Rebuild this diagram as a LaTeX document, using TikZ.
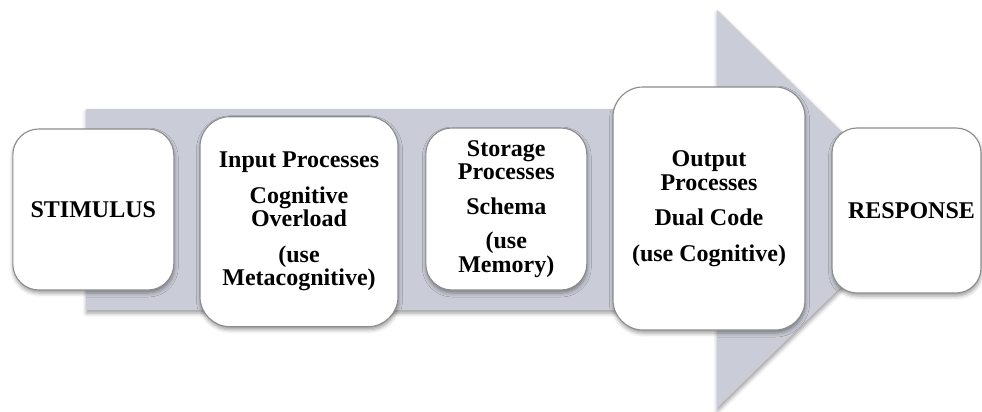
\documentclass[tikz,border=0pt]{standalone}
\usepackage{fontspec}
\setmainfont{Liberation Serif}
\usetikzlibrary{shadows.blur}
\definecolor{arrowfill}{HTML}{CACDD7}
\definecolor{boxline}{HTML}{8C8C8C}
\begin{document}
\begin{tikzpicture}[x=1pt,y=-1pt,
  softshadow/.style={blur shadow={shadow xshift=0.5pt, shadow yshift=-3pt, shadow blur radius=4pt, shadow opacity=40}},
  stagebox/.style={draw=boxline, line width=1.1pt, fill=white, inner sep=0pt, align=center,
    font=\fontsize{24}{23.5}\selectfont\bfseries, softshadow}]
\useasboundingbox (0,0) rectangle (982,412);
% big arrow
\fill[arrowfill, softshadow] (86,109) -- (717,109) -- (717,10) -- (921,209) -- (717,408) -- (717,310) -- (86,310) -- cycle;
% stages
\node[stagebox, minimum width=161pt, minimum height=161pt, rounded corners=26pt] (stim) at (93.3,209.5) {STIMULUS};
\node[stagebox, minimum width=198pt, minimum height=210pt, rounded corners=30pt] (input) at (299,221.7)
  {Input Processes\\[12pt]Cognitive\\Overload\\[12pt](use\\Metacognitive)};
\node[stagebox, minimum width=161pt, minimum height=162pt, rounded corners=26pt] (storage) at (506.3,209)
  {Storage\\Processes\\[11pt]Schema\\[11pt](use\\Memory)};
\node[stagebox, minimum width=192pt, minimum height=243pt, rounded corners=30pt] (output) at (709,208.5)
  {Output\\Processes\\[12pt]Dual Code\\[12pt](use Cognitive)};
\node[stagebox, minimum width=149pt, minimum height=165pt, rounded corners=25pt] (resp) at (906.5,210.5)
  {\hspace*{10pt}RESPONSE};
\end{tikzpicture}
\end{document}
